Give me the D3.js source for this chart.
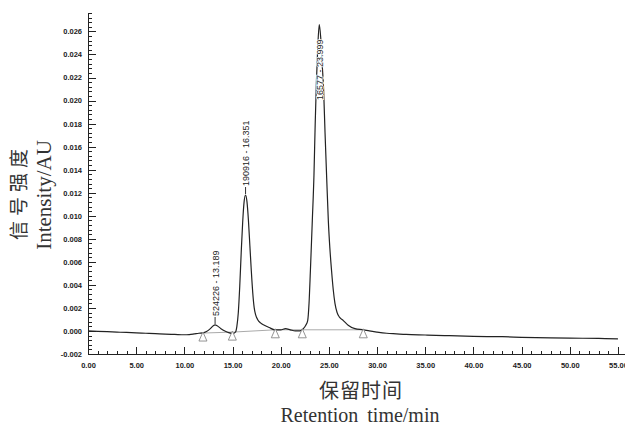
<!DOCTYPE html>
<html>
<head>
<meta charset="utf-8">
<script src="https://cdn.jsdelivr.net/npm/d3@7/dist/d3.min.js"></script>
<style>
    html, body { margin: 0; padding: 0; background: #fff; }
    svg { display: block; }
    .axis path, .axis line { stroke: #222; shape-rendering: crispEdges; }
    .axis text { font-family: "Liberation Sans", Arial, sans-serif; font-size: 7.5px; font-weight: bold; fill: #222; }
    .trace { fill: none; stroke: #222; stroke-width: 1.2; }
    .int-base { fill: none; stroke: #aaa; stroke-width: 1; }
    .marker { fill: #fff; stroke: #888; stroke-width: 0.9; }
    .peak-label { font-family: "Liberation Sans", Arial, sans-serif; font-size: 9px; fill: #222;
        stroke: #fff; stroke-width: 1.5px; paint-order: stroke; }
    .peak-tick { stroke: #333; stroke-width: 1; }
    .title-cn { font-family: "Noto Sans CJK SC", sans-serif; fill: #333; }
    .title-en { font-family: "Liberation Serif", "DejaVu Serif", serif; fill: #333; }
</style>
</head>
<body>
<div id="div-chart"></div>
<script>
"use strict";

// chromatogram trace (min / AU)
const retentionTimes = [
    0, 1, 2, 3, 4, 5, 6, 7, 8, 9, 10, 10.5, 11, 11.5, 11.9,
    12.3, 12.7, 13.0, 13.189, 13.4, 13.8, 14.2, 14.6, 15.0,
    15.3, 15.45, 15.6, 15.75, 15.9, 16.05, 16.2, 16.351, 16.5, 16.65, 16.8, 16.95,
    17.1, 17.25, 17.4, 17.6, 17.9, 18.3, 18.8, 19.4, 20.0, 20.5, 21.0, 21.5, 22.0,
    22.35, 22.6, 22.8, 22.94, 23.08, 23.28, 23.45, 23.58, 23.7, 23.84, 23.999,
    24.15, 24.3, 24.45, 24.6, 24.77, 24.94, 25.1, 25.28, 25.45, 25.63, 25.85,
    26.1, 26.5, 27.0, 27.7, 28.6, 29.2, 30, 31, 32, 33, 35, 37, 40, 43, 45, 48, 50, 53, 55
];
const intensities = [
    0.0000, -0.00003, -0.00006, -0.0001, -0.00013, -0.00017, -0.0002, -0.00023, -0.00027, -0.0003, -0.00033, -0.00031, -0.00026, -0.0002, -0.00017,
    -0.00005, 0.0002, 0.00045, 0.00052, 0.00045, 0.0002, 0.0000, -0.00015, -0.00022,
    -0.0001, 0.0004, 0.0016, 0.0039, 0.0068, 0.0094, 0.0112, 0.0118, 0.0112, 0.0096, 0.0074, 0.0052,
    0.0033, 0.0020, 0.0014, 0.0010, 0.0007, 0.0005, 0.0003, 0.0001, 0.0001, 0.0002, 0.0001, 0.0000, 0.0000,
    0.0002, 0.0005, 0.0009, 0.0024, 0.0052, 0.0096, 0.0135, 0.0180, 0.0215, 0.0245, 0.0266,
    0.0255, 0.0232, 0.0210, 0.0172, 0.0133, 0.0096, 0.0072, 0.0052, 0.0036, 0.0024, 0.0016,
    0.0012, 0.0009, 0.0005, 0.0002, 0.0001, 0.0000, -0.0001, -0.0002, -0.00025, -0.0003, -0.00035, -0.0004, -0.00047, -0.0005, -0.00055, -0.0006, -0.00062, -0.00065, -0.00068
];

// integrated peaks
const peakTimes = [13.189, 16.351, 23.999];
const peakAreas = [524226, 190916, 16577];
const peakHeights = [0.00052, 0.0118, 0.0266];

// integration start / end markers
const markerTimes = [11.93, 14.98, 19.44, 22.24, 28.57];
const markerLevels = [-0.00018, -0.0001, 0.0001, 0.0001, 0.0001];

const xTicks = [0, 5, 10, 15, 20, 25, 30, 35, 40, 45, 50, 55];
const yTicks = [-0.002, 0, 0.002, 0.004, 0.006, 0.008, 0.010, 0.012, 0.014, 0.016, 0.018, 0.020, 0.022, 0.024, 0.026];

class ChromatogramChart {

    constructor() {
        this.width = 625;
        this.height = 426;
        this.svg = d3.select("#div-chart")
            .append("svg")
            .attr("width", this.width)
            .attr("height", this.height);
        this.x = d3.scaleLinear().domain([0, 55.7]).range([88, 624.7]);
        this.y = d3.scaleLinear().domain([-0.002, 0.0276]).range([354, 13]);
    }

    rebuild() {
        const svg = this.svg;
        const x = this.x;
        const y = this.y;

        svg.append("rect").attr("width", this.width).attr("height", this.height).attr("fill", "#fff");

        // minor ticks first, majors with labels on top
        const yMinor = d3.range(0, 75).map(i => -0.002 + i * 0.0004);
        svg.append("g").attr("class", "axis").attr("transform", `translate(${x(0)},0)`)
            .call(d3.axisLeft(y).tickValues(yMinor).tickSize(-4).tickSizeOuter(0).tickFormat(""));
        svg.append("g").attr("class", "axis").attr("transform", `translate(${x(0)},0)`)
            .call(d3.axisLeft(y).tickValues(yTicks).tickSize(-8).tickSizeOuter(0).tickPadding(6)
                .tickFormat(d => d.toFixed(3)));

        const xMinor = d3.range(0, 56);
        svg.append("g").attr("class", "axis").attr("transform", `translate(0,${y(-0.002)})`)
            .call(d3.axisBottom(x).tickValues(xMinor).tickSize(-3).tickSizeOuter(0).tickFormat(""));
        svg.append("g").attr("class", "axis").attr("transform", `translate(0,${y(-0.002)})`)
            .call(d3.axisBottom(x).tickValues(xTicks).tickSize(-7).tickSizeOuter(0).tickPadding(9)
                .tickFormat(d => d.toFixed(2)));

        // integration baseline
        const marks = markerTimes.map((t, i) => [t, markerLevels[i]]);
        svg.append("path").attr("class", "int-base")
            .attr("d", d3.line().x(d => x(d[0])).y(d => y(d[1]))(marks));

        // trace
        const points = retentionTimes.map((t, i) => [t, intensities[i]]);
        svg.append("path").attr("class", "trace")
            .attr("d", d3.line().curve(d3.curveMonotoneX).x(d => x(d[0])).y(d => y(d[1]))(points));

        // start / end triangles
        svg.selectAll(".marker").data(marks).enter().append("path")
            .attr("class", "marker")
            .attr("d", d => {
                const px = x(d[0]), py = y(d[1]);
                return `M${px},${py - 1}L${px + 4},${py + 8}L${px - 4},${py + 8}Z`;
            });

        // peak labels
        peakTimes.forEach((t, i) => {
            const px = x(t), py = y(peakHeights[i]);
            const label = `${peakAreas[i]} - ${t.toFixed(3)}`;
            const txt = svg.append("text").attr("class", "peak-label").text(label);
            const len = txt.node().getComputedTextLength();
            if (py - 9 - len > y.range()[1]) {
                svg.append("line").attr("class", "peak-tick")
                    .attr("x1", px).attr("x2", px).attr("y1", py - 1).attr("y2", py - 8);
                txt.attr("transform", `translate(${px + 0.5},${py - 9}) rotate(-90)`)
                    .attr("dy", "0.36em").attr("text-anchor", "start");
            } else {
                txt.attr("transform", `translate(${px + 0.5},${py + 15}) rotate(-90)`)
                    .attr("dy", "0.36em").attr("text-anchor", "end");
            }
        });

        // axis titles
        svg.append("text").attr("class", "title-cn")
            .attr("transform", "translate(26,192) rotate(-90)")
            .attr("text-anchor", "middle").style("font-size", "19px").style("letter-spacing", "5px")
            .text("信号强度");
        svg.append("text").attr("class", "title-en")
            .attr("transform", "translate(51,195) rotate(-90)")
            .attr("text-anchor", "middle").style("font-size", "21px")
            .text("Intensity/AU");
        svg.append("text").attr("class", "title-cn")
            .attr("x", 361).attr("y", 398)
            .attr("text-anchor", "middle").style("font-size", "20px").style("letter-spacing", "1px")
            .text("保留时间");
        svg.append("text").attr("class", "title-en")
            .attr("x", 360).attr("y", 422)
            .attr("text-anchor", "middle").style("font-size", "20px").style("word-spacing", "4px")
            .text("Retention time/min");
    }
}

new ChromatogramChart().rebuild();
</script>
</body>
</html>
